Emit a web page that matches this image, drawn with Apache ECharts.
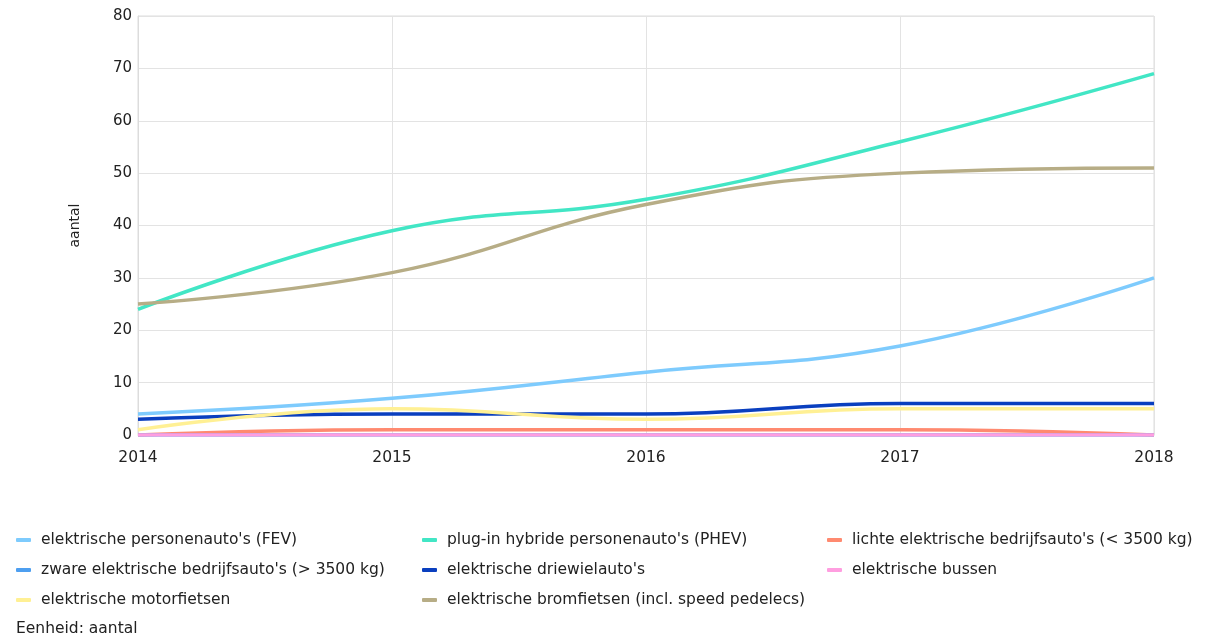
<!DOCTYPE html>
<html><head><meta charset="utf-8">
<script src="https://cdn.jsdelivr.net/npm/echarts@6/dist/echarts.min.js"></script>
<style>html,body{margin:0;padding:0;background:#fff}#c{width:1205px;height:639px}</style>
</head><body><div id="c"></div>
<script>
const years = ['2014','2015','2016','2017','2018'];
const fev = [4, 7, 12, 17, 30];
const phev = [24, 39, 45, 56, 69];
const lichte = [0, 1, 1, 1, 0];
const zware = [0, 0, 0, 0, 0];
const driewiel = [3, 4, 4, 6, 6];
const bussen = [0, 0, 0, 0, 0];
const motor = [1, 5, 3, 5, 5];
const brom = [25, 31, 44, 50, 51];
const yTicks = {min: 0, max: 80, interval: 10};

const names = [
  "elektrische personenauto's (FEV)",
  "plug-in hybride personenauto's (PHEV)",
  "lichte elektrische bedrijfsauto's (< 3500 kg)",
  "zware elektrische bedrijfsauto's (> 3500 kg)",
  "elektrische driewielauto's",
  "elektrische bussen",
  "elektrische motorfietsen",
  "elektrische bromfietsen (incl. speed pedelecs)"
];
const colors = ['#7ecbfd','#42e6c5','#ff8a70','#4e9ff0','#0a3fbf','#ff9ee0','#fff094','#b7ad86'];
const datas = [fev, phev, lichte, zware, driewiel, bussen, motor, brom];

const font = 'DejaVu Sans, sans-serif';
const series = names.map((n,i)=>({
  name:n, type:'line', data:datas[i], smooth:0.45, symbol:'none',
  lineStyle:{width:3.5, color:colors[i]}, itemStyle:{color:colors[i]}
}));
const legendBase = {
  orient:'vertical', top:527, itemGap:14, itemWidth:15, itemHeight:4, icon:'roundRect',
  textStyle:{fontFamily:font, fontSize:15.5, color:'#222', padding:[0,0,0,5]}
};
const chart = echarts.init(document.getElementById('c'));
chart.setOption({
  animation:false,
  color:colors,
  grid:{left:138, right:51, top:16, bottom:204, containLabel:false},
  title:{text:'Eenheid: aantal', left:11, top:616, textStyle:{fontFamily:font, fontSize:15.5, fontWeight:'normal', color:'#222'}},
  legend:[
    Object.assign({}, legendBase, {left:11, data:[names[0], names[3], names[6]]}),
    Object.assign({}, legendBase, {left:417, data:[names[1], names[4], names[7]]}),
    Object.assign({}, legendBase, {left:822, data:[names[2], names[5]]})
  ],
  xAxis:{type:'category', data:years, boundaryGap:false,
    axisLine:{show:true, lineStyle:{color:'#dcdcdc'}}, axisTick:{show:false},
    axisLabel:{fontFamily:font, fontSize:15.5, color:'#222', margin:15},
    splitLine:{show:true, lineStyle:{color:'#e3e3e3'}}},
  yAxis:{type:'value', min:yTicks.min, max:yTicks.max, interval:yTicks.interval,
    name:'aantal', nameLocation:'middle', nameGap:56, nameRotate:90,
    nameTextStyle:{fontFamily:font, fontSize:14, color:'#222'},
    axisLine:{show:true, lineStyle:{color:'#dcdcdc'}}, axisTick:{show:false},
    axisLabel:{fontFamily:font, fontSize:15, color:'#222', margin:6},
    splitLine:{show:true, lineStyle:{color:'#e3e3e3'}}},
  graphic:[{type:'rect', shape:{x:138, y:16, width:1016, height:419}, style:{fill:'none', stroke:'#dcdcdc', lineWidth:1}, silent:true, z:-1}],
  series:series
});
</script></body></html>
